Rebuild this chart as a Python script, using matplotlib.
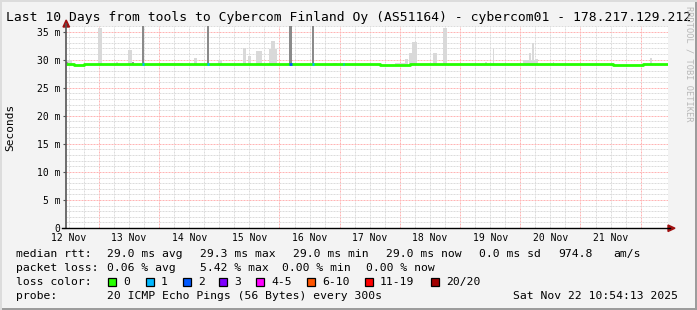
import matplotlib
matplotlib.use("Agg")
import matplotlib.pyplot as plt
from matplotlib.patches import Rectangle, Polygon

plt.rcParams["lines.scale_dashes"] = False

W, H = 697, 310
MONO = "DejaVu Sans Mono"

# x axis: hours since Nov 12 10:54 (10 days), midnight of 13 Nov at 13.1 h
day_labels = ["12 Nov", "13 Nov", "14 Nov", "15 Nov", "16 Nov",
              "17 Nov", "18 Nov", "19 Nov", "20 Nov", "21 Nov"]
first_noon = 1.1
first_midnight = 13.1

# median rtt (ms): change points (hours) and values
med_hours = [0, 3, 7, 10, 20, 23, 45, 47, 60, 62, 70, 73, 104, 110, 122, 125,
             136, 137, 139, 158, 161, 215, 218, 230, 234]
med_ms = [29.15, 29.05, 29.15, 29.2, 29.15, 29.2, 29.15, 29.2, 29.15, 29.2,
          29.15, 29.2, 29.15, 29.2, 29.15, 29.1, 29.0, 29.15, 29.15, 29.2,
          29.15, 29.15, 29.1, 29.2, 29.15]

# light smoke: start hour, end hour, top (ms)
smoke_start = [0.0, 12.8, 19.9, 24.7, 37.5, 51.0, 60.6, 70.6, 72.6, 75.8,
               81.1, 81.7, 106.5, 131.0, 135.2, 136.8, 138.0, 146.3, 150.3,
               167.1, 170.2, 182.2, 184.6, 185.8, 187.0, 194.2, 232.8]
smoke_end = [2.4, 14.4, 20.7, 26.3, 46.6, 52.2, 62.2, 71.8, 73.8, 78.1,
             84.1, 83.3, 108.0, 136.0, 136.4, 138.3, 139.9, 147.9, 151.9,
             167.9, 170.6, 187.8, 185.4, 186.6, 188.2, 194.6, 233.6]
smoke_top = [30.0, 35.7, 29.6, 31.8, 29.4, 30.3, 30.0, 32.0, 30.7, 31.5,
             31.9, 33.4, 29.4, 29.4, 30.1, 31.2, 33.2, 31.2, 35.7,
             29.6, 32.1, 29.9, 31.2, 32.9, 30.2, 29.5, 30.3]

# darker short smoke near the line: start, end, top (ms)
dsmoke_start = [0.0, 26.3]
dsmoke_end = [0.8, 27.1]
dsmoke_top = [29.6, 29.6]

# dark smoke spikes (hours), reaching the top of the graph
spike_start = [30.2, 56.1, 88.9, 98.0]
spike_end = [31.0, 56.9, 90.1, 98.8]

# packet loss on the median line: start, end, loss colour index
loss_start = [30.2, 56.1, 88.9, 98.0, 110.4]
loss_end = [31.0, 56.9, 90.1, 98.8, 111.0]
loss_level = [1, 1, 2, 1, 1]

loss_names = ["0", "1", "2", "3", "4-5", "6-10", "11-19", "20/20"]
loss_colors = ["#26ff00", "#00b8ff", "#0059ff", "#7e00ff",
               "#ff00ff", "#ff5500", "#ff0000", "#a10000"]

y_ticks = [0, 5, 10, 15, 20, 25, 30, 35]


def fx(x):
    return x / W


def fy(y):
    return 1 - y / H


def median_at(h):
    v = med_ms[0]
    for t, m in zip(med_hours, med_ms):
        if t <= h:
            v = m
    return v


fig = plt.figure(figsize=(W / 100, H / 100), dpi=100, facecolor="#f3f3f3")
ax = fig.add_axes([fx(66), fy(228), (668 - 66) / W, (228 - 26) / H])
ax.set_facecolor("white")
ax.set_xlim(0, 240)
ax.set_ylim(0, 36.0)
for s in ax.spines.values():
    s.set_visible(False)

# grid: dotted, 2px on 1px off
dots = (0, (1.44, 0.72))
for k in range(41):
    h = first_noon + 6 * k - 12
    if h <= 0 or h >= 240:
        continue
    major = abs((h - first_midnight) % 24) < 0.01
    ax.axvline(h, color="#ffb4b4" if major else "#dcdcdc", lw=0.72,
               ls=dots, zorder=1)
for v in range(1, 37):
    major = v % 5 == 0
    ax.axhline(v, color="#ffb4b4" if major else "#dcdcdc", lw=0.72,
               ls=dots, zorder=1)

# smoke
for a, b, t in zip(smoke_start, smoke_end, smoke_top):
    base = median_at(a)
    ax.bar(a, t - base, width=b - a, bottom=base, align="edge",
           color="#d9d9d9", lw=0, zorder=2)
for a, b, t in zip(dsmoke_start, dsmoke_end, dsmoke_top):
    base = median_at(a)
    ax.bar(a, t - base, width=b - a, bottom=base, align="edge",
           color="#9a9a9a", lw=0, zorder=3)
for a, b in zip(spike_start, spike_end):
    base = median_at(a)
    ax.bar(a, 36 - base, width=b - a, bottom=base, align="edge",
           color="#8a8a8a", lw=0, zorder=3)

# median line
ax.step(med_hours + [240], med_ms + [med_ms[-1]], where="post",
        color=loss_colors[0], lw=2.0, zorder=4, solid_capstyle="butt")
for a, b, lv in zip(loss_start, loss_end, loss_level):
    base = median_at(a)
    ax.plot([a, b], [base, base], color=loss_colors[lv], lw=2.0,
            zorder=5, solid_capstyle="butt")

# ticks
ax.set_xticks([first_noon + 24 * i for i in range(len(day_labels))])
ax.set_xticklabels(day_labels, fontfamily=MONO, fontsize=7.0)
ax.set_yticks(y_ticks)
ax.set_yticklabels(["0"] + ["%d m" % v for v in y_ticks[1:]],
                   fontfamily=MONO, fontsize=7.0)
ax.tick_params(axis="x", length=0, pad=3.5)
ax.tick_params(axis="y", length=2, pad=2, color="#555555")
fig.text(fx(10.5), fy(127), "Seconds", rotation=90, ha="center", va="center",
         fontfamily=MONO, fontsize=8.0)

# axes lines with arrows
fig.add_artist(plt.Line2D([fx(66), fx(66)], [fy(228), fy(24)],
                          color="#555555", lw=1.2))
fig.add_artist(plt.Line2D([fx(62), fx(670)], [fy(228), fy(228)],
                          color="black", lw=1.0))
fig.add_artist(Polygon([[fx(63), fy(27)], [fx(69.5), fy(27)], [fx(66.2), fy(20)]],
                       closed=True, color="#a01010"))
fig.add_artist(Polygon([[fx(668), fy(225)], [fx(668), fy(231.5)], [fx(675), fy(228.2)]],
                       closed=True, color="#a01010"))

# title and watermark
fig.text(0.5, fy(18), "Last 10 Days from tools to Cybercom Finland Oy (AS51164) - cybercom01 - 178.217.129.212",
         ha="center", va="center", fontfamily=MONO, fontsize=9.4)
fig.text(fx(689), fy(6), "RRDTOOL / TOBI OETIKER", rotation=270, ha="center", va="top",
         fontfamily=MONO, fontsize=6.2, color="#b8b8b8")

# legend
fs = 8.2
rows = [
    (254, [(16, "median rtt:"), (107, "29.0 ms avg"), (200, "29.3 ms max"),
           (293, "29.0 ms min"), (386, "29.0 ms now"), (479, "0.0 ms sd"),
           (558, "974.8"), (613, "am/s")]),
    (268, [(16, "packet loss:"), (107, "0.06 % avg"), (200, "5.42 % max"),
           (282, "0.00 % min"), (366, "0.00 % now")]),
    (282, [(16, "loss color:")]),
    (296, [(16, "probe:"), (107, "20 ICMP Echo Pings (56 Bytes) every 300s"),
           (513, "Sat Nov 22 10:54:13 2025")]),
]
for y, items in rows:
    for x, s in items:
        fig.text(fx(x), fy(y), s, ha="left", va="center", fontfamily=MONO, fontsize=fs)

box_x = [108, 146, 183, 219, 256, 307, 365, 431]
for bx, name, col in zip(box_x, loss_names, loss_colors):
    fig.add_artist(Rectangle((fx(bx), fy(286)), 8 / W, 8 / H, facecolor=col,
                             edgecolor="black", lw=0.9))
    fig.text(fx(bx + 15), fy(282), name, ha="left", va="center",
             fontfamily=MONO, fontsize=fs)

# frame
fig.add_artist(Rectangle((fx(695), 0), 2 / W, 1, facecolor="#9c9c9c", lw=0))
fig.add_artist(Rectangle((0, 0), 1, 2.5 / H, facecolor="#9c9c9c", lw=0))
fig.add_artist(Rectangle((0, fy(2)), 1, 2 / H, facecolor="#dcdcdc", lw=0))
fig.add_artist(Rectangle((0, 0), 2 / W, 1, facecolor="#dcdcdc", lw=0))

fig.savefig("out.png", dpi=100, facecolor=fig.get_facecolor())
